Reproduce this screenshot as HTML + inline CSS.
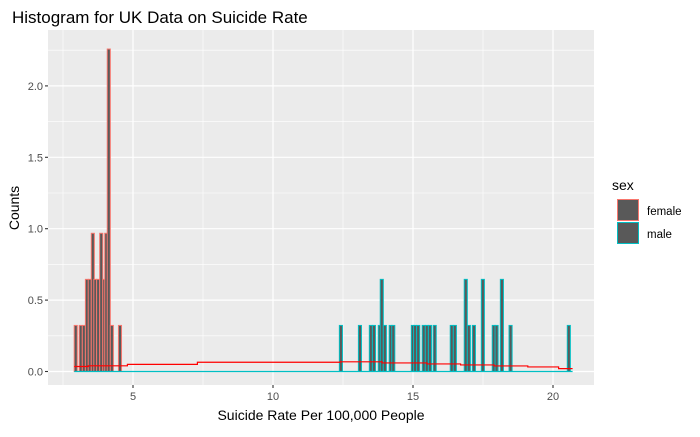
<!DOCTYPE html>
<html><head><meta charset="utf-8"><style>
body{margin:0;background:#fff;font-family:"Liberation Sans",sans-serif}
svg text{font-family:"Liberation Sans",sans-serif}
</style></head><body>
<svg id="chart" width="700" height="432" xmlns="http://www.w3.org/2000/svg">
<text x="12" y="23" font-size="17" fill="#000">Histogram for UK Data on Suicide Rate</text>
<rect x="48" y="30" width="546" height="355" fill="#EBEBEB"/>
<g id="grid"></g><g id="bars"></g><g id="lines"></g><g id="axes"></g>
<text x="321" y="420" font-size="14" text-anchor="middle">Suicide Rate Per 100,000 People</text>
<text transform="translate(19,208) rotate(-90)" font-size="14" text-anchor="middle">Counts</text>
<g>
<text x="612" y="190" font-size="14">sex</text>
<rect x="617.5" y="199.5" width="21" height="21" fill="#595959" stroke="#F8766D" stroke-width="1"/>
<rect x="617.5" y="222.5" width="21" height="21" fill="#595959" stroke="#00BFC4" stroke-width="1"/>
<text x="647" y="215" font-size="11.5">female</text>
<text x="647" y="238" font-size="11.5">male</text>
</g>
</svg>
<script>
const femaleBins=[2.90,3.08,3.19,3.30,3.40,3.51,3.60,3.70,3.81,3.92,3.99,4.08,4.19,4.48];
const femaleCounts=[1,1,1,2,2,3,2,2,3,2,3,7,1,1];
const maleBins=[12.37,13.05,13.44,13.55,13.76,13.83,13.94,14.15,14.24,14.94,15.02,15.13,15.33,15.44,15.55,15.72,16.33,16.44,16.83,16.94,17.12,17.44,17.83,17.93,18.12,18.43,20.51];
const maleCounts=[1,1,1,1,1,2,1,1,1,1,1,1,1,1,1,1,1,1,2,1,1,2,1,1,2,1,1];
const countUnit=0.3226;
const binWidth=0.11;
const densX=[2.9,3.4,4.8,7.3,12.4,13.9,15.5,16.7,17.9,19.1,20.2,20.7];
const densY=[0.035,0.04,0.05,0.065,0.068,0.06,0.053,0.046,0.039,0.032,0.02,0.02];
const xTicks=[5,10,15,20];
const yTicks=[0,0.5,1.0,1.5,2.0];
const yTickLabels=["0.0","0.5","1.0","1.5","2.0"];
const NS="http://www.w3.org/2000/svg";
const X=v=>133+(v-5)*28;
const Y=v=>371.5-v*142.8;
function mk(tag,attrs,parent){const e=document.createElementNS(NS,tag);for(const k in attrs)e.setAttribute(k,attrs[k]);document.getElementById(parent).appendChild(e);return e;}
const grid='grid';
[2.5,7.5,12.5,17.5].forEach(v=>{const l=mk('line',{x1:X(v),x2:X(v),y1:30,y2:385,stroke:'#fff','stroke-width':0.6},grid);

});
[0.25,0.75,1.25,1.75,2.25].forEach(v=>{const l=mk('line',{x1:48,x2:594,y1:Y(v),y2:Y(v),stroke:'#fff','stroke-width':0.6},grid);

});
xTicks.forEach(v=>{const l=mk('line',{x1:X(v),x2:X(v),y1:30,y2:385,stroke:'#fff','stroke-width':1.2},grid);


const t=mk('line',{x1:X(v),x2:X(v),y1:385,y2:388,stroke:'#333','stroke-width':1.1},'axes');


const tx=mk('text',{x:X(v),y:400,'font-size':11,'text-anchor':'middle',fill:'#4D4D4D'},'axes');tx.textContent=v;

});
yTicks.forEach((v,i)=>{const l=mk('line',{x1:48,x2:594,y1:Y(v),y2:Y(v),stroke:'#fff','stroke-width':1.2},grid);


const t=mk('line',{x1:45,x2:48,y1:Y(v),y2:Y(v),stroke:'#333','stroke-width':1.1},'axes');


const tx=mk('text',{x:43,y:Y(v)+4,'font-size':11,'text-anchor':'end',fill:'#4D4D4D'},'axes');tx.textContent=yTickLabels[i];

});
function bars(bins,counts,col,name){bins.forEach((b,i)=>{const h=counts[i]*countUnit;
const r=mk('rect',{x:X(b),y:Y(h),width:X(b+binWidth)-X(b),height:Y(0)-Y(h),fill:'#595959',stroke:col,'stroke-width':1},'bars');

});}
bars(femaleBins,femaleCounts,'#F8766D','female-bar');
bars(maleBins,maleCounts,'#00BFC4','male-bar');
const base=mk('line',{x1:X(2.9),x2:X(20.7),y1:Y(0),y2:Y(0),stroke:'#00BFC4','stroke-width':1.2},'lines');


let d='';for(let i=0;i<densX.length-1;i++){d+=(i?'L':'M')+X(densX[i])+' '+Y(densY[i])+'L'+X(densX[i+1])+' '+Y(densY[i]);}
const p=mk('path',{d:d,fill:'none',stroke:'#FF0000','stroke-width':1.2},'lines');


</script>
</body></html>
